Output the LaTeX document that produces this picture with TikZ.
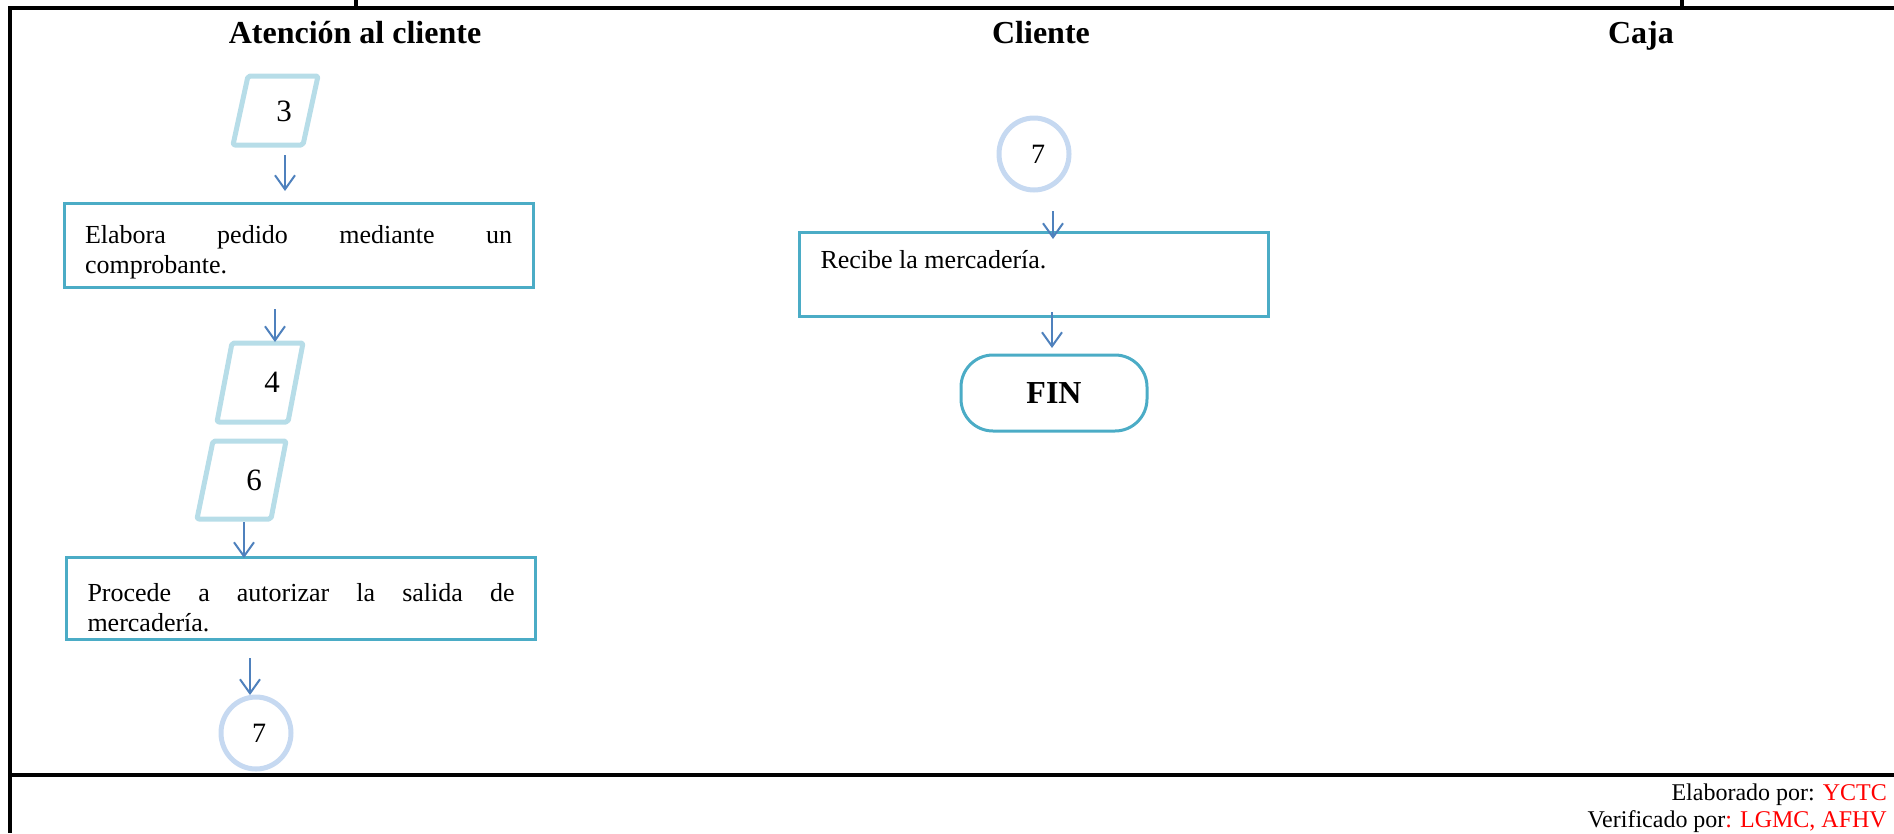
\documentclass[tikz,border=0pt]{standalone}
\usepackage{fontspec}
\setmainfont{Liberation Serif}
\usetikzlibrary{arrows.meta,shapes.geometric,calc}
\definecolor{boxc}{RGB}{75,172,198}
\definecolor{parac}{RGB}{183,221,232}
\definecolor{circc}{RGB}{198,217,241}
\definecolor{arrc}{RGB}{79,129,189}
\hyphenpenalty=10000
\exhyphenpenalty=10000
\begin{document}
\begin{tikzpicture}[x=1pt,y=-1pt,
  frame/.style={line width=4pt, draw=black},
  head/.style={anchor=base, font=\bfseries\fontsize{32}{36}\selectfont},
  proc/.style={draw=boxc, line width=3pt, text width=427pt, inner xsep=21pt, inner ysep=0pt,
     align=justify, font=\fontsize{26}{30}\selectfont},
  num/.style={font=\fontsize{31}{30}\selectfont, inner sep=0pt},
  para/.style={draw=parac, line width=5pt, line join=round, rounded corners=2pt},
  conn/.style={ellipse, draw=circc, line width=5pt, minimum width=70pt, minimum height=72pt,
     inner sep=0pt, font=\fontsize{28}{30}\selectfont},
  term/.style={rectangle, rounded corners=32pt, draw=boxc, line width=3pt, minimum width=186pt,
     minimum height=76pt, font=\bfseries\fontsize{32}{34}\selectfont},
  arr/.style={draw=arrc, line width=2pt, -{Straight Barb[length=14pt,width=20pt]}},
  foot/.style={anchor=base east, inner sep=0pt, font=\fontsize{24}{28}\selectfont}
]
\useasboundingbox (0,0) rectangle (1894,833);

% frame
\draw[frame] (1894,8) -- (10,8) -- (10,833);
\draw[frame] (10,775) -- (1894,775);
\draw[frame] (356,0) -- (356,8);
\draw[frame] (1682,0) -- (1682,8);

% headings
\node[head] (h1) at (355,43) {Atención al cliente};
\node[head] (h2) at (1041,43) {Cliente};
\node[head] (h3) at (1641,43) {Caja};

% left lane
\node[num] (p3) at (284,111) {3};
\draw[para] ($(p3)+(-36,-35)$) -- ($(p3)+(34,-35)$) -- ($(p3)+(19,34)$) -- ($(p3)+(-51,34)$) -- cycle;

\node[proc, minimum height=84pt, text height=33pt] (b1) at (298.5,245) {Elabora pedido mediante un comprobante.};

\node[num] (p4) at (272,382) {4};
\draw[para] ($(p4)+(-40,-39)$) -- ($(p4)+(31,-39)$) -- ($(p4)+(16,40)$) -- ($(p4)+(-55,40)$) -- cycle;

\node[num] (p6) at (254,480) {6};
\draw[para] ($(p6)+(-41,-39)$) -- ($(p6)+(32,-39)$) -- ($(p6)+(17,39)$) -- ($(p6)+(-57,39)$) -- cycle;

\node[proc, minimum height=82pt, text height=38pt] (b2) at (301,598) {Procede a autorizar la salida de mercadería.};

\node[conn] (c7a) at (256,733) {\hspace*{6pt}7};

% middle lane
\node[conn] (c7b) at (1034,154) {\hspace*{8pt}7};
\node[proc, minimum height=84pt, text height=18pt, text depth=30pt] (b3) at (1034,274) {Recibe la mercadería.};
\node[term] (fin) at (1054,393) {FIN};

% footer
\node[foot] (f1) at (1887,800) {Elaborado por: \textcolor{red}{YCTC}};
\node[foot] (f2) at (1887,827) {Verificado por\textcolor{red}{: LGMC, AFHV}};

% connectors
\coordinate (a1s) at (285,155); \coordinate (a1e) at (285,191);
\coordinate (a2s) at (275,309); \coordinate (a2e) at (275,342);
\coordinate (a3s) at (244,522); \coordinate (a3e) at (244,558);
\coordinate (a4s) at (250,658); \coordinate (a4e) at (250,695);
\coordinate (a5s) at (1053,211); \coordinate (a5e) at (1053,239);
\coordinate (a6s) at (1052,312); \coordinate (a6e) at (1052,348);
\draw[arr] (a1s) -- (a1e);
\draw[arr] (a2s) -- (a2e);
\draw[arr] (a3s) -- (a3e);
\draw[arr] (a4s) -- (a4e);
\draw[arr] (a5s) -- (a5e);
\draw[arr] (a6s) -- (a6e);
\end{tikzpicture}
\end{document}
